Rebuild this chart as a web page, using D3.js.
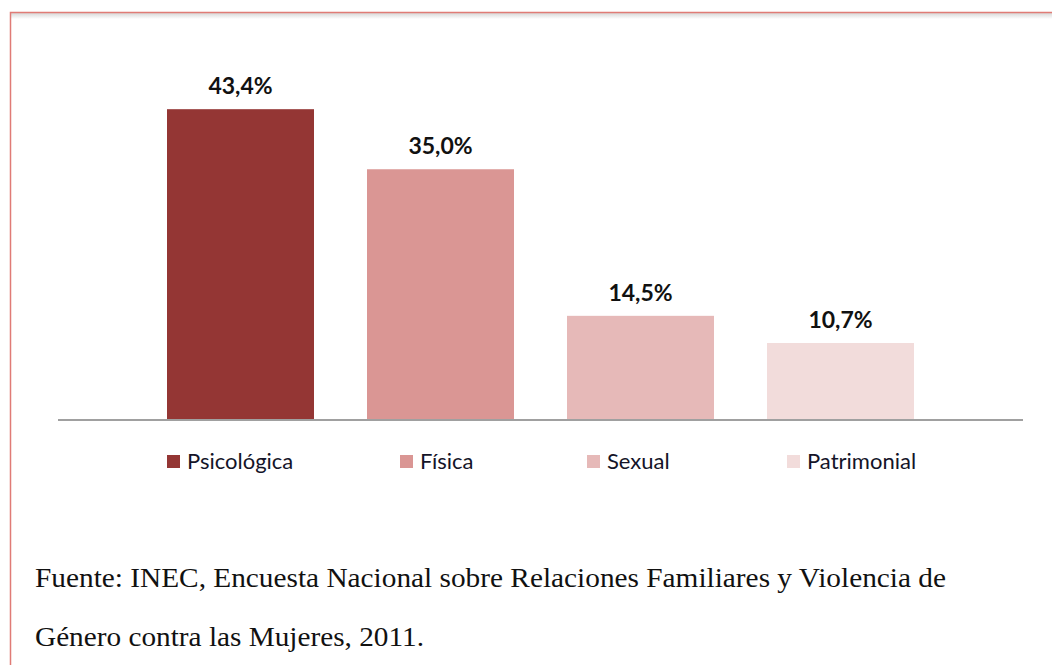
<!DOCTYPE html>
<html>
<head>
<meta charset="utf-8">
<script src="https://cdn.jsdelivr.net/npm/d3@7"></script>
<style>
  body { margin: 0; background: #fff; }
  svg { display: block; }
</style>
</head>
<body>
<svg width="1052" height="665"></svg>
<script>
"use strict";

var categories = ["Psicológica", "Física", "Sexual", "Patrimonial"];
var values = [43.4, 35.0, 14.5, 10.7];
var valueLabels = ["43,4%", "35,0%", "14,5%", "10,7%"];
var colors = ["#943634", "#da9694", "#e6b9b8", "#f2dcdb"];
var legendX = [167, 400, 587, 787];
var sourceLines = [
  "Fuente: INEC, Encuesta Nacional sobre Relaciones Familiares y Violencia de",
  "Género contra las Mujeres, 2011."
];
var sourceWidths = [911, 389];

var svg = d3.select("svg");

// frame: red border on the left and top, faint shadow under the top edge
var shadow = svg.append("defs").append("linearGradient")
    .attr("id", "shade").attr("x1", 0).attr("x2", 0).attr("y1", 0).attr("y2", 1);
shadow.append("stop").attr("offset", 0).attr("stop-color", "#d8d8d8");
shadow.append("stop").attr("offset", 1).attr("stop-color", "#ffffff");
svg.append("rect").attr("x", 11).attr("y", 13).attr("width", 1041).attr("height", 6)
    .attr("fill", "url(#shade)");
svg.append("path")
    .attr("d", "M10.5,665V12.5H1052")
    .attr("fill", "none")
    .attr("stroke", "#e07b76")
    .attr("stroke-width", 1.5);

var x = d3.scaleBand()
    .domain(categories)
    .range([140.5, 940.5])
    .paddingInner(0.265)
    .paddingOuter(0.1325);

var y = d3.scaleLinear()
    .domain([0, 50])
    .range([419.5, 62]);

svg.selectAll(".bar")
    .data(values)
    .enter()
      .append("rect")
      .attr("class", "bar")
      .attr("x", function(d, i) { return x(categories[i]); })
      .attr("y", function(d) { return y(d); })
      .attr("width", x.bandwidth())
      .attr("height", function(d) { return y(0) - y(d); })
      .attr("fill", function(d, i) { return colors[i]; });

svg.selectAll(".val")
    .data(values)
    .enter()
      .append("text")
      .attr("class", "val")
      .attr("x", function(d, i) { return x(categories[i]) + x.bandwidth() / 2; })
      .attr("y", function(d) { return y(d) - 15; })
      .attr("text-anchor", "middle")
      .style("font-family", "Lato, 'Open Sans', sans-serif")
      .style("font-weight", "bold")
      .style("font-size", "23px")
      .attr("fill", "#111")
      .text(function(d, i) { return valueLabels[i]; });

// baseline
svg.append("line")
    .attr("x1", 58).attr("x2", 1023)
    .attr("y1", y(0) + 0.5).attr("y2", y(0) + 0.5)
    .attr("stroke", "#a0a0a0")
    .attr("stroke-width", 2);

// legend
var legend = svg.selectAll(".legend")
    .data(categories)
    .enter()
      .append("g")
      .attr("class", "legend")
      .attr("transform", function(d, i) { return "translate(" + legendX[i] + ",455)"; });

legend.append("rect")
    .attr("width", 13).attr("height", 13)
    .attr("fill", function(d, i) { return colors[i]; });

legend.append("text")
    .attr("x", 20).attr("y", 14)
    .style("font-family", "Lato, 'Open Sans', sans-serif")
    .style("font-size", "22px")
    .attr("fill", "#141428")
    .text(function(d) { return d; });

// source note
svg.selectAll(".src")
    .data(sourceLines)
    .enter()
      .append("text")
      .attr("class", "src")
      .attr("x", 35)
      .attr("y", function(d, i) { return 587 + i * 59; })
      .attr("textLength", function(d, i) { return sourceWidths[i]; })
      .attr("lengthAdjust", "spacingAndGlyphs")
      .style("font-family", "'Liberation Serif', 'Times New Roman', serif")
      .style("font-size", "27px")
      .attr("fill", "#111")
      .text(function(d) { return d; });
</script>
</body>
</html>
